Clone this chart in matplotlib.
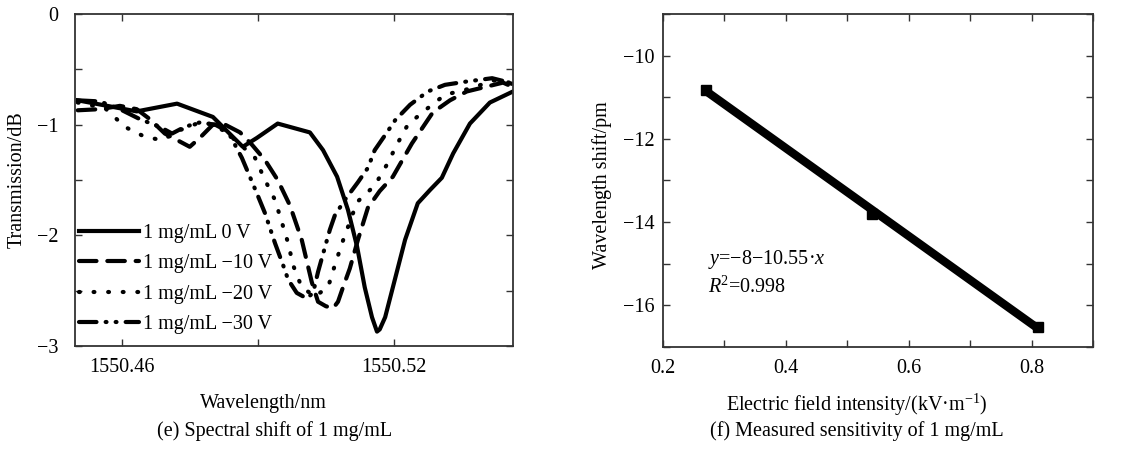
import numpy as np
import matplotlib
matplotlib.use("Agg")
import matplotlib.pyplot as plt
from matplotlib.ticker import MultipleLocator, FixedLocator

plt.rcParams['font.family'] = ['Liberation Serif', 'DejaVu Serif']
plt.rcParams['mathtext.fontset'] = 'custom'
plt.rcParams['mathtext.rm'] = 'Liberation Serif'
plt.rcParams['mathtext.it'] = 'Liberation Serif:italic'
plt.rcParams['font.size'] = 14.5

# ---- (e) spectra, wavelength in nm, transmission in dB ----
wl_0v = [1550.4502, 1550.4632, 1550.4721, 1550.4800, 1550.4866, 1550.4897, 1550.4943,
         1550.5014, 1550.5043, 1550.5074, 1550.5098, 1550.5118, 1550.5135, 1550.5151,
         1550.5162, 1550.5168, 1550.5180, 1550.5197, 1550.5224, 1550.5252, 1550.5279,
         1550.5305, 1550.5330, 1550.5367, 1550.5411, 1550.5462]
tr_0v = [-0.78, -0.88, -0.81, -0.93, -1.20, -1.12, -0.99,
         -1.07, -1.23, -1.47, -1.77, -2.10, -2.47, -2.74,
         -2.87, -2.85, -2.74, -2.47, -2.04, -1.71, -1.59,
         -1.48, -1.26, -0.99, -0.80, -0.70]

wl_10v = [1550.4502, 1550.4551, 1550.4595, 1550.4632, 1550.4661, 1550.4694, 1550.4749,
          1550.4771, 1550.4800, 1550.4827, 1550.4860, 1550.4886, 1550.4915, 1550.4943,
          1550.4970, 1550.4996, 1550.5018, 1550.5032, 1550.5049, 1550.5065, 1550.5076,
          1550.5087, 1550.5102, 1550.5120, 1550.5142, 1550.5168, 1550.5197, 1550.5239,
          1550.5285, 1550.5323, 1550.5360, 1550.5400, 1550.5440, 1550.5462]
tr_10v = [-0.87, -0.86, -0.83, -0.86, -0.95, -1.08, -1.20,
          -1.12, -1.00, -1.00, -1.07, -1.18, -1.32, -1.50,
          -1.73, -2.04, -2.42, -2.60, -2.64, -2.66, -2.60,
          -2.47, -2.30, -2.04, -1.75, -1.60, -1.47, -1.17,
          -0.89, -0.78, -0.70, -0.66, -0.62, -0.66]

wl_20v = [1550.4502, 1550.4562, 1550.4606, 1550.4650, 1550.4688, 1550.4727, 1550.4771,
          1550.4805, 1550.4838, 1550.4866, 1550.4893, 1550.4915, 1550.4937, 1550.4952,
          1550.4966, 1550.4977, 1550.4996, 1550.5025, 1550.5054, 1550.5069, 1550.5085,
          1550.5118, 1550.5157, 1550.5184, 1550.5206, 1550.5230, 1550.5268, 1550.5312,
          1550.5371, 1550.5418, 1550.5455, 1550.5462]
tr_20v = [-0.80, -0.85, -1.02, -1.11, -1.14, -1.05, -0.98,
          -1.00, -1.10, -1.20, -1.30, -1.50, -1.68, -1.88,
          -2.07, -2.27, -2.47, -2.55, -2.47, -2.27, -2.07,
          -1.70, -1.55, -1.36, -1.18, -1.00, -0.87, -0.73,
          -0.67, -0.60, -0.62, -0.64]

wl_30v = [1550.4502, 1550.4551, 1550.4595, 1550.4639, 1550.4683, 1550.4710, 1550.4738,
          1550.4771, 1550.4805, 1550.4833, 1550.4864, 1550.4897, 1550.4915, 1550.4937,
          1550.4955, 1550.4966, 1550.4985, 1550.5007, 1550.5021, 1550.5032, 1550.5047,
          1550.5058, 1550.5069, 1550.5091, 1550.5120, 1550.5142, 1550.5157, 1550.5184,
          1550.5202, 1550.5235, 1550.5274, 1550.5312, 1550.5360, 1550.5416, 1550.5455,
          1550.5462]
tr_30v = [-0.78, -0.79, -0.86, -0.95, -1.02, -1.08, -1.02,
          -0.98, -1.00, -1.06, -1.30, -1.62, -1.80, -2.07,
          -2.27, -2.40, -2.52, -2.57, -2.52, -2.33, -2.11,
          -1.95, -1.82, -1.68, -1.52, -1.39, -1.23, -1.07,
          -0.96, -0.82, -0.70, -0.64, -0.61, -0.58, -0.62,
          -0.64]

series_labels = ['1 mg/mL 0 V', '1 mg/mL \u221210 V', '1 mg/mL \u221220 V', '1 mg/mL \u221230 V']

# ---- (f) sensitivity ----
field = [0.27, 0.54, 0.81]
shift = [-10.82, -13.80, -16.52]
fit_x = [0.27, 0.81]
fit_y = [-10.85, -16.55]

fig = plt.figure(figsize=(11.25, 4.49), dpi=100)
ax1 = fig.add_axes([0.0667, 0.2294, 0.3893, 0.7394])
ax2 = fig.add_axes([0.5893, 0.2272, 0.3822, 0.7416])

lw = 3.0
ax1.plot(wl_0v, tr_0v, color='black', lw=lw, solid_joinstyle='round', label=series_labels[0])
ax1.plot(wl_10v, tr_10v, color='black', lw=lw, dashes=(4.2, 2.6), dash_capstyle='round',
         label=series_labels[1])
ax1.plot(wl_20v, tr_20v, color='black', lw=lw, dashes=(0.2, 3.3), dash_capstyle='round',
         label=series_labels[2])
ax1.plot(wl_30v, tr_30v, color='black', lw=lw, dashes=(4.2, 2.2, 0.2, 2.2, 0.2, 2.2),
         dash_capstyle='round', label=series_labels[3])

ax1.set_xlim(1550.4496, 1550.5462)
ax1.set_ylim(-3, 0)
ax1.xaxis.set_major_locator(FixedLocator([1550.46, 1550.52]))
ax1.xaxis.set_minor_locator(FixedLocator([1550.49]))
ax1.set_xticklabels(['1550.46', '1550.52'])
ax1.set_yticks([-3, -2, -1, 0])
ax1.set_yticklabels(['\u22123', '\u22122', '\u22121', '0'])
ax1.yaxis.set_minor_locator(MultipleLocator(0.5))
ax1.tick_params(axis='y', pad=12)
ax1.tick_params(axis='x', pad=9)
ax1.set_xlabel('Wavelength/nm')
ax1.set_ylabel('Transmission/dB')
ax1.xaxis.set_label_coords(0.43, -0.145)
ax1.yaxis.set_label_coords(-0.11, 0.5)
ax1.legend(loc='lower left', bbox_to_anchor=(-0.01, 0.012), frameon=False, handlelength=3.0,
           handletextpad=0.2, labelspacing=0.56, borderaxespad=0)

ax2.plot(fit_x, fit_y, color='black', lw=6, solid_capstyle='butt')
ax2.plot(field, shift, 's', color='black', ms=7)
ax2.set_xlim(0.2, 0.9)
ax2.set_ylim(-17, -9)
ax2.xaxis.set_major_locator(MultipleLocator(0.2))
ax2.xaxis.set_minor_locator(MultipleLocator(0.1))
ax2.set_yticks([-16, -14, -12, -10])
ax2.set_yticklabels(['\u221216', '\u221214', '\u221212', '\u221210'])
ax2.yaxis.set_minor_locator(MultipleLocator(1))
ax2.tick_params(axis='y', pad=6)
ax2.tick_params(axis='x', pad=9)
ax2.set_xlabel('Electric field intensity/(kV\u00b7m$^{\u22121}$)')
ax2.set_ylabel('Wavelength shift/pm')
ax2.xaxis.set_label_coords(0.45, -0.135)
ax2.yaxis.set_label_coords(-0.118, 0.486)
ax2.text(0.273, -14.9, '$y$=\u22128\u221210.55\u00b7$x$', va='center', ha='left')
ax2.text(0.273, -15.56, '$R$$^2$=0.998', va='center', ha='left')

for ax in (ax1, ax2):
    for s in ax.spines.values():
        s.set_linewidth(1.3)
        s.set_color('#333333')
    ax.tick_params(which='both', direction='in', top=True, right=True, color='#333333',
                   width=1.0, length=5)

fig.text(0.244, 0.041, '(e) Spectral shift of 1 mg/mL', ha='center', va='center')
fig.text(0.762, 0.041, '(f) Measured sensitivity of 1 mg/mL', ha='center', va='center')

fig.savefig('out.png', dpi=100)
